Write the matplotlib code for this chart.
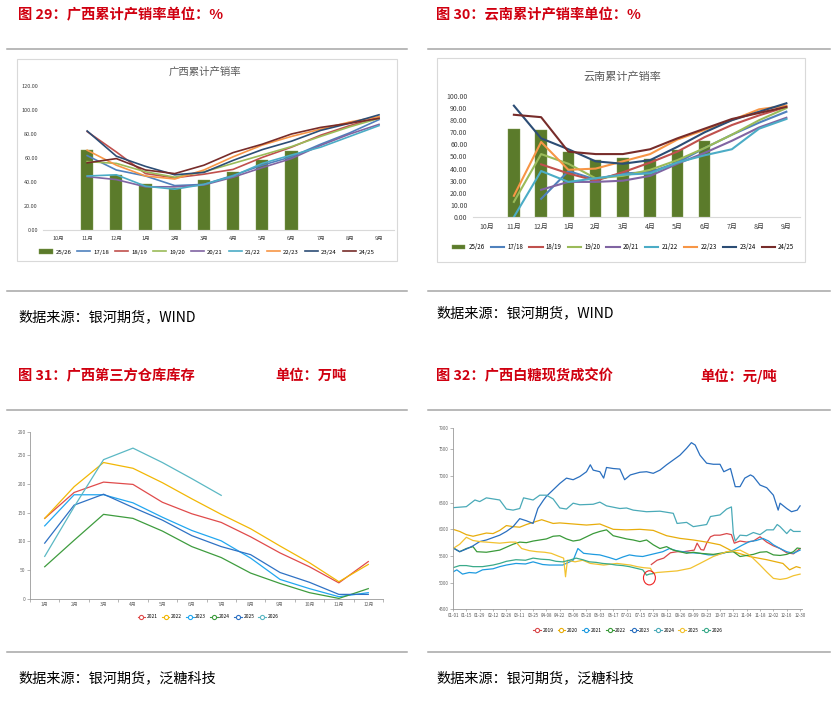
import matplotlib
matplotlib.use('Agg')
import matplotlib.pyplot as plt
import numpy as np
from matplotlib.patches import Rectangle, Ellipse
from matplotlib.lines import Line2D

plt.rcParams['font.family'] = ['Noto Sans CJK SC', 'DejaVu Sans']

nan = np.nan

# ---------------- data ----------------
# fig 29 / 30 : cumulative sales ratio (%)
months_cs = ['10月', '11月', '12月', '1月', '2月', '3月', '4月', '5月', '6月', '7月', '8月', '9月']
season_names = ['17/18', '18/19', '19/20', '20/21', '21/22', '22/23', '23/24', '24/25']
season_colors = ['#4f81bd', '#c0504d', '#9bbb59', '#8064a2', '#4bacc6', '#f79646', '#2c4d75', '#772c2a']

gx_2526 = [67, 46, 38.5, 35, 41.5, 48.5, 58.5, 65.5]          # 11月..6月
gx_1718 = [62, 50, 45, 37, 38, 45.5, 54, 61, 71.5, 81, 92]     # 11月..9月
gx_1819 = [82, 65, 47, 43.5, 46.5, 50.5, 60.5, 69, 79, 87, 94]
gx_1920 = [57, 55.5, 48.5, 44, 48.5, 55.5, 62.5, 69.5, 78, 86, 93]
gx_2021 = [44.5, 42, 36, 36, 37.5, 44, 52, 59.5, 70.5, 80, 88]
gx_2122 = [45, 46, 36.5, 34, 38, 45, 55.5, 62.5, 69, 78, 87]
gx_2223 = [66.5, 54, 45, 42.5, 50, 61, 70.8, 78, 84, 90, 94.5]
gx_2324 = [82.5, 61.5, 53, 46, 48, 58, 67, 74, 83, 89, 96]
gx_2425 = [56, 59.5, 50, 47, 54, 64.5, 71.5, 80, 85.5, 89, 93]

yn_2526 = [72.5, 71.5, 54, 47, 49, 48, 55.5, 62.5]
yn_1718 = [nan, 15, 38, 31, 36, 37, 45, 57, 68, 78, 87]
yn_1819 = [nan, 43.5, 36, 30, 37, 45, 54, 66, 76, 84, 91]
yn_1920 = [12.5, 52, 44, 32, 34, 39, 47, 57, 68, 80, 90]
yn_2021 = [nan, 22.5, 29, 29, 30, 34, 44, 53, 63, 74, 82]
yn_2122 = [0, 38, 29, 32, 35, 36, 45, 51, 56, 73, 81]
yn_2223 = [17.5, 62, 39, 40, 46, 52, 64, 72, 80, 89, 92]
yn_2324 = [92, 65, 56, 46, 44, 47, 58, 70, 80, 87, 94]
yn_2425 = [84.5, 82.5, 54, 52, 52, 56, 65, 73, 81, 86, 91]

# fig 31 : third-party warehouse stock (万吨)
months_cal = ['1月', '2月', '3月', '4月', '5月', '6月', '7月', '8月', '9月', '10月', '11月', '12月']
st_names = ['2021', '2022', '2023', '2024', '2025', '2026']
st_colors = ['#e04b4b', '#f2b705', '#22a7f0', '#3e9c3e', '#2f72c4', '#5bb8c4']
st_2021 = [140, 185, 203, 199, 168, 148, 133, 108, 80, 56, 28, 65]
st_2022 = [140, 195, 237, 227, 202, 174, 147, 122, 92, 63, 30, 60]
st_2023 = [127, 181, 181, 167, 142, 119, 101, 71, 34, 18, 4, 11]
st_2024 = [56, 102, 147, 140, 118, 91, 72, 45, 27, 11, 1, 18]
st_2025 = [97, 163, 182, 159, 137, 110, 91, 77, 46, 29, 8, 8]
st_2026 = [74, 160, 242, 262, 237, 209, 180]

# fig 32 : Guangxi spot price (元/吨), x = day of year
date_ticks = ['01-01', '01-15', '01-29', '02-12', '02-26', '03-11', '03-25', '04-08', '04-22',
              '05-06', '05-20', '06-03', '06-17', '07-01', '07-15', '07-29', '08-12', '08-26',
              '09-09', '09-23', '10-07', '10-21', '11-04', '11-18', '12-02', '12-16', '12-30']
pr_names = ['2019', '2020', '2021', '2022', '2023', '2024', '2025', '2026']
pr_colors = ['#d9484a', '#e8ad0c', '#1e9be0', '#3a9a3a', '#2a6fbf', '#4aaab8', '#f2c230', '#3aaa8a']

p2019_d = [208, 214, 221, 228, 235, 242, 249, 253, 256, 260, 263, 266, 270, 274, 280, 287, 292, 295,
           301, 308, 315, 322, 329, 336, 343, 350, 357, 364]
p2019_v = [5340, 5420, 5460, 5560, 5580, 5580, 5600, 5610, 5740, 5620, 5610, 5740, 5860, 5890, 5890,
           5920, 5900, 5740, 5780, 5760, 5780, 5860, 5760, 5690, 5640, 5560, 5540, 5640]
p2020_d = [0, 7, 14, 21, 28, 35, 42, 49, 56, 63, 70, 77, 84, 93, 105, 112, 126, 140, 154, 168,
           182, 196, 210, 217, 224, 238, 252, 266, 280, 294, 311, 329, 346, 353, 360, 364]
p2020_v = [6000, 5960, 5900, 5870, 5900, 5930, 5920, 5980, 6070, 6050, 6040, 6090, 6130, 6180, 6110,
           6120, 6100, 6080, 6100, 6000, 5990, 6000, 5980, 5930, 5880, 5830, 5800, 5760, 5710, 5580,
           5490, 5430, 5360, 5240, 5300, 5280]
p2021_d = [0, 4, 10, 17, 24, 31, 42, 49, 56, 66, 76, 84, 94, 101, 115, 126, 131, 137, 147, 154,
           164, 171, 178, 185, 192, 199, 206, 213, 220, 227, 234, 241, 250, 259, 268, 276, 285, 294,
           303, 311, 318, 325, 331, 336, 343, 350, 357, 364]
p2021_v = [5200, 5240, 5160, 5190, 5180, 5240, 5260, 5300, 5330, 5360, 5350, 5390, 5340, 5330, 5330,
           5420, 5640, 5550, 5530, 5520, 5470, 5430, 5480, 5520, 5500, 5490, 5520, 5550, 5580, 5640,
           5600, 5580, 5560, 5550, 5520, 5520, 5560, 5610, 5700, 5770, 5790, 5830, 5780, 5710, 5640,
           5580, 5550, 5610]
p2022_d = [0, 7, 14, 21, 25, 35, 49, 63, 70, 77, 84, 98, 105, 112, 119, 126, 133, 140, 147, 154,
           161, 168, 175, 182, 189, 196, 203, 210, 217, 224, 231, 238, 245, 252, 259, 273, 287, 294,
           301, 315, 322, 329, 336, 343, 350, 357, 361, 364]
p2022_v = [5656, 5580, 5640, 5675, 5580, 5570, 5610, 5720, 5760, 5750, 5780, 5820, 5870, 5880, 5820,
           5780, 5800, 5860, 5920, 5960, 5990, 5880, 5850, 5820, 5800, 5770, 5800, 5710, 5640, 5675,
           5610, 5580, 5550, 5570, 5550, 5530, 5570, 5580, 5490, 5530, 5570, 5580, 5520, 5510, 5530,
           5580, 5650, 5640]
p2023_d = [0, 7, 14, 21, 28, 35, 49, 56, 63, 70, 77, 84, 89, 95, 98, 105, 112, 119, 126, 133,
           140, 144, 147, 154, 158, 161, 168, 175, 180, 186, 196, 203, 210, 217, 224, 231, 238, 245,
           250, 254, 259, 266, 273, 280, 284, 291, 296, 301, 306, 312, 315, 322, 329, 336, 341, 343,
           350, 355, 361, 364]
p2023_v = [5650, 5580, 5630, 5690, 5770, 5800, 5890, 5960, 6050, 6200, 6160, 6110, 6390, 6550, 6620,
           6740, 6860, 6960, 6930, 6990, 7080, 7210, 7110, 7080, 6960, 7160, 7140, 7130, 6930, 7020,
           7070, 7080, 7050, 7110, 7210, 7300, 7390, 7520, 7625, 7580, 7390, 7240, 7220, 7220, 7080,
           7140, 6800, 6800, 6960, 7020, 6990, 6830, 6780, 6640, 6360, 6490, 6390, 6330, 6360, 6440]
p2024_d = [0, 14, 23, 28, 35, 42, 49, 56, 63, 70, 74, 84, 91, 98, 105, 112, 119, 126, 133, 147,
           154, 161, 175, 182, 189, 203, 217, 231, 235, 245, 252, 266, 270, 280, 287, 292, 294, 296,
           301, 308, 315, 322, 329, 336, 340, 343, 350, 354, 357, 364]
p2024_v = [6406, 6425, 6550, 6520, 6590, 6570, 6550, 6380, 6360, 6390, 6590, 6550, 6640, 6640, 6570,
           6400, 6380, 6490, 6460, 6470, 6510, 6440, 6390, 6400, 6360, 6330, 6340, 6300, 6110, 6130,
           6050, 6090, 6240, 6270, 6380, 6420, 5920, 5780, 5890, 5880, 5940, 5900, 5990, 5990, 6090,
           6050, 5920, 6000, 5960, 5960]
p2025_d = [0, 7, 14, 21, 28, 35, 49, 60, 66, 72, 80, 88, 96, 103, 110, 116, 118, 120, 128, 136,
           144, 158, 172, 186, 193, 200, 207, 210, 214, 221, 235, 249, 259, 273, 287, 301, 311, 322,
           329, 336, 343, 350, 357, 364]
p2025_v = [5640, 5720, 5850, 5790, 5770, 5760, 5740, 5760, 5760, 5640, 5600, 5580, 5570, 5550, 5500,
           5460, 5110, 5420, 5390, 5420, 5360, 5330, 5360, 5330, 5300, 5280, 5270, 5175, 5190, 5200,
           5220, 5270, 5360, 5490, 5580, 5610, 5520, 5330, 5200, 5080, 5060, 5080, 5130, 5160]
p2026_d = [0, 7, 14, 21, 31, 42, 49, 56, 66, 76, 84, 92, 101, 108, 115, 122, 129, 136, 143, 150,
           157, 164, 171, 178, 185, 192, 199, 203, 206, 210]
p2026_v = [5280, 5320, 5320, 5300, 5300, 5330, 5360, 5400, 5430, 5420, 5460, 5440, 5430, 5400, 5390,
           5420, 5460, 5430, 5390, 5380, 5360, 5350, 5330, 5320, 5300, 5270, 5240, 5140, 5160, 5170]

# ---------------- layout helpers ----------------
W, H = 832, 708
fig = plt.figure(figsize=(W / 100, H / 100), dpi=100)
fig.patch.set_facecolor('white')


def box(l, t, r, b):
    return [l / W, 1 - b / H, (r - l) / W, (b - t) / H]


def fx(x):
    return x / W


def fy(y):
    return 1 - y / H


red = '#d00010'
grey_line = '#a6a6a6'


def hline(x0, x1, y):
    fig.add_artist(Line2D([fx(x0), fx(x1)], [fy(y), fy(y)], color=grey_line, lw=1.1))


def frame(l, t, r, b):
    fig.add_artist(Rectangle((fx(l), fy(b)), (r - l) / W, (b - t) / H, transform=fig.transFigure,
                             fill=False, edgecolor='#d9d9d9', lw=0.8))


# headers / rules / sources
tfs = 10.3
sfs = 10.2
fig.text(fx(18), fy(15), '图 29：广西累计产销率单位：%', color=red, fontsize=tfs, fontweight='bold', va='center')
fig.text(fx(436), fy(15), '图 30：云南累计产销率单位：%', color=red, fontsize=tfs, fontweight='bold', va='center')
hline(7, 407, 49)
hline(428, 830, 49)
hline(7, 407, 291)
hline(428, 830, 291)
fig.text(fx(18), fy(317), '数据来源：银河期货，WIND', fontsize=sfs, va='center')
fig.text(fx(436), fy(313), '数据来源：银河期货，WIND', fontsize=sfs, va='center')

fig.text(fx(18), fy(376), '图 31：广西第三方仓库库存', color=red, fontsize=tfs, fontweight='bold', va='center')
fig.text(fx(275), fy(376), '单位：万吨', color=red, fontsize=tfs, fontweight='bold', va='center')
fig.text(fx(436), fy(376), '图 32：广西白糖现货成交价', color=red, fontsize=tfs, fontweight='bold', va='center')
fig.text(fx(700), fy(376), '单位：元/吨', color=red, fontsize=tfs, fontweight='bold', va='center')
hline(7, 407, 410)
hline(428, 830, 410)
hline(7, 407, 652)
hline(428, 830, 652)
fig.text(fx(18), fy(678), '数据来源：银河期货，泛糖科技', fontsize=sfs, va='center')
fig.text(fx(436), fy(678), '数据来源：银河期货，泛糖科技', fontsize=sfs, va='center')


# ---------------- fig 29 / 30 ----------------
def sales_panel(pos, frame_box, title, title_xy, bars, series, ymax, ystep, legend_xy,
                lab_fs, lw, title_fs, leg_fs):
    frame(*frame_box)
    ax = fig.add_axes(box(*pos))
    x = np.arange(len(months_cs))
    bh = ax.bar(x[1:1 + len(bars)], bars, width=0.42, color='#5b7b2b', edgecolor='#7d9a4d', lw=0.3,
                label='25/26', zorder=1)
    handles = [bh]
    for name, vals, c in zip(season_names, series, season_colors):
        h, = ax.plot(x[1:], vals, color=c, lw=lw, label=name, zorder=2)
        handles.append(h)
    ax.set_xlim(-0.5, 11.5)
    ax.set_ylim(0, ymax)
    yt = np.arange(0, ymax + 0.1, ystep)
    ax.set_yticks(yt)
    ax.set_yticklabels([f'{v:.2f}' for v in yt])
    ax.set_xticks(x)
    ax.set_xticklabels(months_cs)
    for s in ['top', 'right', 'left']:
        ax.spines[s].set_visible(False)
    ax.spines['bottom'].set_color('#d9d9d9')
    ax.tick_params(length=0, labelsize=lab_fs, colors='#404040', pad=4)
    fig.text(fx(title_xy[0]), fy(title_xy[1]), title, ha='center', va='center', fontsize=title_fs,
             color='#595959')
    fig.legend(handles, ['25/26'] + season_names, loc='center', bbox_to_anchor=(fx(legend_xy[0]), fy(legend_xy[1])),
               ncol=9, frameon=False, fontsize=leg_fs, handlelength=2.2, columnspacing=1.0,
               handletextpad=0.5, borderpad=0)
    return ax


sales_panel((43.4, 86, 393.6, 230), (17, 59, 397, 261), '广西累计产销率', (205, 72), gx_2526,
            [gx_1718, gx_1819, gx_1920, gx_2021, gx_2122, gx_2223, gx_2324, gx_2425],
            120, 20, (207, 252), 4, 1.2, 7.5, 4.3)
sales_panel((473, 96, 800, 217), (437, 58, 805, 262), '云南累计产销率', (622, 76), yn_2526,
            [yn_1718, yn_1819, yn_1920, yn_2021, yn_2122, yn_2223, yn_2324, yn_2425],
            100, 10, (623, 247), 5, 1.5, 8, 4.4)


# ---------------- fig 31 ----------------
ax3 = fig.add_axes(box(30, 432, 383, 599))
xc = np.arange(12)
stocks = [st_2021, st_2022, st_2023, st_2024, st_2025, st_2026]
for name, vals, c in zip(st_names, stocks, st_colors):
    ax3.plot(xc[:len(vals)], vals, color=c, lw=0.9)
ax3.set_xlim(-0.5, 11.5)
ax3.set_ylim(0, 290)
ax3.set_yticks([0, 50, 100, 150, 200, 250, 290])
ax3.set_xticks(xc)
ax3.set_xticklabels(months_cal)
ax3.set_xticks(np.arange(-0.5, 12, 1), minor=True)
for s in ['top', 'right']:
    ax3.spines[s].set_visible(False)
for s in ['left', 'bottom']:
    ax3.spines[s].set_color('#999999')
    ax3.spines[s].set_linewidth(0.6)
ax3.tick_params(axis='x', which='major', length=0, labelsize=3.5, colors='#666666', pad=2)
ax3.tick_params(axis='x', which='minor', length=2, width=0.5, color='#999999')
ax3.tick_params(axis='y', length=2, width=0.5, color='#999999', labelsize=3.5, labelcolor='#666666', pad=1)
h3 = [Line2D([0], [0], color=c, lw=0.8, marker='o', ms=3, mfc='white', mew=0.8) for c in st_colors]
fig.legend(h3, st_names, loc='center', bbox_to_anchor=(fx(208), fy(617)), ncol=6, frameon=False,
           fontsize=3.5, handlelength=1.6, columnspacing=0.8, handletextpad=0.3, borderpad=0)


# ---------------- fig 32 ----------------
ax4 = fig.add_axes(box(453, 428, 802, 609.3))
prices = [(p2019_d, p2019_v), (p2020_d, p2020_v), (p2021_d, p2021_v), (p2022_d, p2022_v),
          (p2023_d, p2023_v), (p2024_d, p2024_v), (p2025_d, p2025_v), (p2026_d, p2026_v)]
for (d, v), c in zip(prices, pr_colors):
    ax4.plot(d, v, color=c, lw=0.9)
ax4.set_xlim(0, 366)
ax4.set_ylim(4500, 7900)
ax4.set_yticks([4500, 5000, 5500, 6000, 6500, 7000, 7500, 7900])
ax4.set_xticks(np.arange(0, 365, 14))
ax4.set_xticklabels(date_ticks)
for s in ['top', 'right']:
    ax4.spines[s].set_visible(False)
for s in ['left', 'bottom']:
    ax4.spines[s].set_color('#999999')
    ax4.spines[s].set_linewidth(0.6)
ax4.tick_params(axis='x', length=1.5, width=0.5, color='#999999', labelsize=3.2, labelcolor='#555555', pad=1)
ax4.tick_params(axis='y', length=2, width=0.5, color='#999999', labelsize=3.2, labelcolor='#666666', pad=1)
ax4.add_patch(Ellipse((206, 5090), 12.5, 265, fill=False, edgecolor='#ee2222', lw=0.8, zorder=5))
h4 = [Line2D([0], [0], color=c, lw=0.8, marker='o', ms=3, mfc='white', mew=0.8) for c in pr_colors]
fig.legend(h4, pr_names, loc='center', bbox_to_anchor=(fx(628), fy(630)), ncol=8, frameon=False,
           fontsize=3.5, handlelength=1.6, columnspacing=0.8, handletextpad=0.3, borderpad=0)

fig.savefig('out.png', dpi=100)
